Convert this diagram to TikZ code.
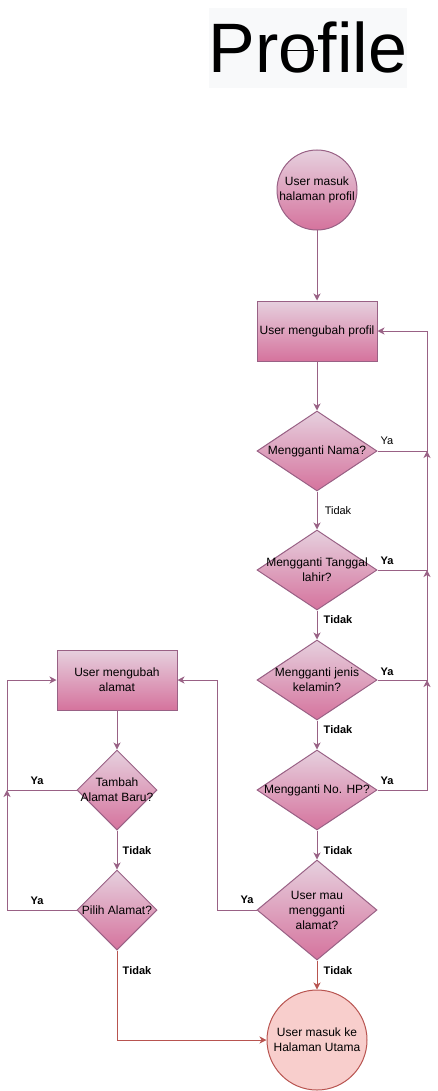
\documentclass[tikz,border=0pt]{standalone}
\usepackage{fontspec}
\setmainfont{Liberation Sans}
\usetikzlibrary{shapes.geometric,arrows.meta}
\definecolor{gA}{HTML}{E6D0DE}
\definecolor{gB}{HTML}{D5739D}
\definecolor{pk}{HTML}{996185}
\definecolor{endF}{HTML}{F8CECC}
\definecolor{endS}{HTML}{B85450}
\definecolor{titleBg}{HTML}{F8F9FA}
\begin{document}
\begin{tikzpicture}[x=1pt,y=-1pt,
  pbox/.style={rectangle, draw=pk, line width=1pt, top color=gA, bottom color=gB, minimum width=120pt, minimum height=60pt, inner sep=0pt},
  dia/.style={diamond, draw=pk, line width=1pt, top color=gA, bottom color=gB, inner sep=0pt},
  circ/.style={circle, draw=pk, line width=1pt, top color=gA, bottom color=gB, inner sep=0pt},
  txt/.style={font=\fontsize{12}{15}\selectfont, align=center, inner sep=0pt},
  lbl/.style={font=\fontsize{11}{13}\selectfont, inner sep=0pt},
  lblb/.style={font=\fontsize{11}{13}\selectfont\bfseries, inner sep=0pt},
  tip/.style={-{Stealth[length=7pt,width=7pt,inset=2pt]}},
  conn/.style={draw=pk, line width=1pt, tip},
  seg/.style={draw=pk, line width=1pt},
  connR/.style={draw=endS, line width=1pt, -{Stealth[length=7pt,width=7pt,inset=2pt]}}
]
\useasboundingbox (0,0) rectangle (437,1091);
% title
\node[fill=titleBg, minimum width=198pt, minimum height=80pt, inner sep=0pt] (titlebg) at (308,48) {};
\node[font=\fontsize{70}{70}\selectfont, inner sep=0pt, anchor=base] (title) at (308,73) {Profile};
\coordinate (tl1) at (282,50);
\coordinate (tl2) at (318,50);
\draw[black, line width=0.8pt] (tl1) -- (tl2);

% right column
\node[circ, minimum size=80pt] (start) at (317,190) {};
\node[txt] (startT) at (start) {User masuk\\halaman profil};
\node[pbox] (prof) at (317,331) {};
\node[txt] (profT) at (prof) {User mengubah profil};
\node[dia, minimum width=120pt, minimum height=80pt] (nama) at (317,451) {};
\node[txt] (namaT) at (nama) {Mengganti Nama?};
\node[dia, minimum width=120pt, minimum height=80pt] (tgl) at (317,570) {};
\node[txt] (tglT) at (tgl) {Mengganti Tanggal\\lahir?};
\node[dia, minimum width=120pt, minimum height=80pt] (kel) at (317,680) {};
\node[txt] (kelT) at (kel) {Mengganti jenis\\kelamin?};
\node[dia, minimum width=120pt, minimum height=80pt] (hp) at (317,790) {};
\node[txt] (hpT) at (hp) {Mengganti No. HP?};
\node[dia, minimum width=120pt, minimum height=100pt] (alm) at (317,910) {};
\node[txt] (almT) at (alm) {User mau\\mengganti\\alamat?};
\node[circle, draw=endS, fill=endF, line width=1pt, minimum size=100pt, inner sep=0pt] (endc) at (317,1040) {};
\node[txt] (endT) at (endc) {User masuk ke\\Halaman Utama};

% left column
\node[pbox] (adr) at (117,680) {};
\node[txt] (adrT) at (adr) {User mengubah\\alamat};
\node[dia, minimum width=80pt, minimum height=80pt] (tmb) at (117,790) {};
\node[txt] (tmbT) at (tmb) {Tambah\\Alamat Baru?};
\node[dia, minimum width=80pt, minimum height=80pt] (plh) at (117,910) {};
\node[txt] (plhT) at (plh) {Pilih Alamat?};

\coordinate (rx) at (427,0);
\coordinate (mx) at (217,0);
\coordinate (lx) at (7,0);

% vertical flow right
\draw[conn] (start) -- (prof);
\draw[conn] (prof) -- (nama);
\draw[conn] (nama) -- (tgl);
\draw[conn] (tgl) -- (kel);
\draw[conn] (kel) -- (hp);
\draw[conn] (hp) -- (alm);
\draw[connR] (alm) -- (endc);

% right loop
\draw[conn] (nama.east) -- (nama.east -| rx) -- (prof.east -| rx) -- (prof.east);
\draw[conn] (tgl.east) -- (tgl.east -| rx) -- (nama.east -| rx);
\draw[conn] (kel.east) -- (kel.east -| rx) -- (tgl.east -| rx);
\draw[conn] (hp.east) -- (hp.east -| rx) -- (kel.east -| rx);

% alamat loop
\draw[conn] (alm.west) -- (alm.west -| mx) -- (adr.east -| mx) -- (adr.east);

% left flow
\draw[conn] (adr) -- (tmb);
\draw[conn] (tmb) -- (plh);
\draw[conn] (tmb.west) -- (tmb.west -| lx) -- (adr.west -| lx) -- (adr.west);
\draw[conn] (plh.west) -- (plh.west -| lx) -- (tmb.west -| lx);
\draw[connR] (plh.south) |- (endc.west);

% labels
\node[lbl] (ya1) at (387,441) {Ya};
\node[lbl] (td1) at (338,511) {Tidak};
\node[lblb] (ya2) at (387,561) {Ya};
\node[lblb] (td2) at (338,620) {Tidak};
\node[lblb] (ya3) at (387,672) {Ya};
\node[lblb] (td3) at (338,730) {Tidak};
\node[lblb] (ya4) at (387,781) {Ya};
\node[lblb] (td4) at (338,851) {Tidak};
\node[lblb] (ya5) at (247,900) {Ya};
\node[lblb] (td5) at (338,971) {Tidak};
\node[lblb] (ya6) at (37,781) {Ya};
\node[lblb] (td6) at (137,851) {Tidak};
\node[lblb] (ya7) at (37,901) {Ya};
\node[lblb] (td7) at (137,971) {Tidak};
\end{tikzpicture}
\end{document}
